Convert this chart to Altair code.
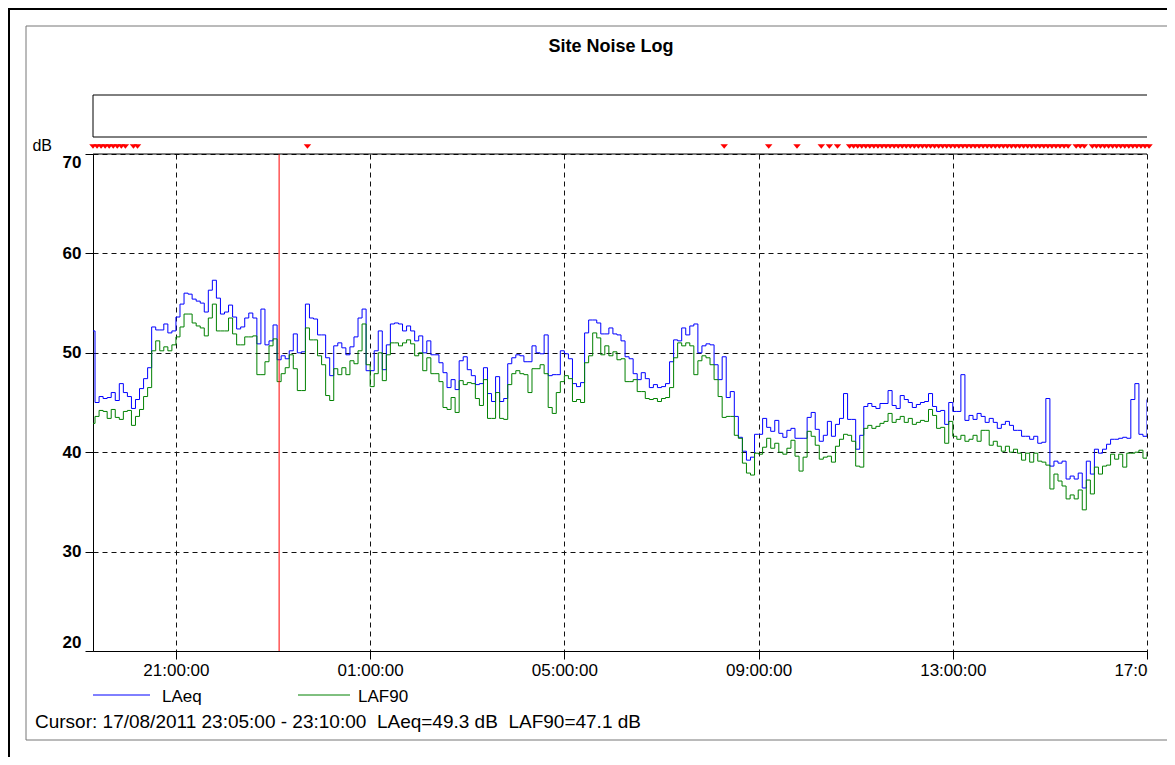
import altair as alt
import pandas as pd

# ---------------- data ----------------
series_names = ["LAeq", "LAF90"]
series_colors = ["#0000ff", "#008000"]
start_time = "2011-08-17 19:15:00"   # first 5-minute interval
step_minutes = 5

laeq = [
    52.2,
    45.0, 45.6, 45.4, 45.5, 46.0, 45.2, 46.9, 46.0, 45.6, 44.4, 45.3, 46.4, 47.4, 48.5,
    52.6, 52.3, 52.3, 52.9, 52.0, 52.2, 53.6, 54.9, 56.0, 55.9, 55.4, 55.2, 55.0, 54.1,
    56.3, 57.3, 55.5, 53.9, 54.1, 54.8, 53.6, 52.4, 52.6, 53.5, 54.0, 53.5, 50.9, 54.4, 50.8, 51.2, 52.8,
    49.3, 49.7, 49.4, 50.2, 51.9, 50.0, 50.1, 54.9, 53.5, 53.4, 51.8, 51.8, 49.5, 47.7, 50.7, 51.0, 50.5, 49.8, 50.6, 51.6,
    53.5, 54.4, 48.2, 48.2, 50.2, 52.2, 48.3, 50.8, 52.9, 53.0, 52.9, 52.2, 52.7, 52.2, 51.2, 51.7, 50.0, 51.2, 49.8, 49.8,
    49.0, 48.0, 46.5, 47.3, 46.3,
    49.2, 49.6, 48.3, 47.7, 46.8, 46.9, 48.5, 45.9, 45.1, 47.6, 45.1, 45.4, 48.9, 49.5, 49.8, 49.7, 49.1, 49.1, 50.7, 50.0,
    49.9, 51.8, 47.7, 47.8, 47.8, 50.2, 49.9, 49.4, 46.9, 46.6, 47.0, 52.0, 53.3, 53.3, 53.0, 51.9, 51.9, 52.5, 51.9, 51.8,
    51.2, 49.6, 49.4, 47.9, 47.3, 48.0, 47.4, 46.5, 46.8, 46.5, 46.6, 46.9, 49.1, 51.3, 51.2, 52.5, 51.8, 52.7, 52.9, 50.0,
    50.7, 50.9, 50.8, 48.8, 47.3, 49.6, 45.5, 46.1, 43.6, 41.5, 40.1, 39.2, 39.5, 41.8, 41.8, 43.4, 42.5, 42.1, 43.2, 41.9,
    41.5, 42.2, 42.4, 41.4, 41.4, 41.4, 43.5, 44.0, 42.3, 41.1, 41.7, 43.1, 41.6, 42.8, 43.4, 45.9, 43.3, 43.3, 40.3, 41.7,
    44.6, 44.9, 44.6, 44.4, 44.9, 44.9,
    46.2, 44.7, 44.4, 45.7, 45.3, 45.0, 44.5, 44.8, 45.0, 45.1, 45.9, 44.6, 44.1, 44.2, 42.8, 45.0, 44.1, 44.1, 47.8, 43.2,
    43.7, 43.3, 43.9, 43.6, 43.0, 43.4, 43.0, 42.4, 42.8, 43.1, 42.7, 42.2, 42.2, 41.6, 41.6, 41.3, 41.6, 40.9, 41.0, 45.4,
    38.6, 39.1, 38.9, 39.1, 37.3, 37.6, 37.3, 37.9, 36.4, 39.1, 37.8, 40.3, 39.9, 40.3, 40.8, 41.3, 41.3, 41.4, 41.5, 41.4,
    45.3, 46.9, 41.8, 41.6, 45.3,
]

laf90 = [
    42.9,
    43.6, 44.2, 44.1, 43.4, 44.3, 43.5, 43.3, 44.1, 44.2, 42.7, 43.6, 44.3, 45.6, 46.5,
    50.2, 51.2, 50.2, 50.6, 50.2, 50.8, 51.6, 52.6, 53.9, 53.9, 53.0, 52.7, 52.5, 51.7,
    53.5, 54.9, 52.2, 52.2, 52.2, 53.5, 51.9, 50.8, 50.8, 51.6, 51.6, 51.7, 47.8, 47.8, 49.1, 50.7, 51.4,
    47.1, 47.9, 48.5, 49.8, 48.4, 46.2, 46.2, 52.5, 51.3, 51.3, 49.7, 48.8, 45.7, 45.2, 48.4, 47.8, 48.5, 47.8, 49.2, 48.9,
    50.2, 52.9, 48.8, 46.6, 47.9, 50.0, 47.2, 49.8, 51.0, 51.0, 50.7, 51.0, 51.3, 50.9, 49.7, 50.0, 48.2, 49.5, 47.9, 47.9,
    47.1, 44.5, 44.3, 45.5, 44.0,
    47.2, 46.8, 47.0, 46.9, 45.4, 44.7, 47.3, 43.4, 43.4, 46.0, 43.4, 43.3, 46.8, 47.9, 48.2, 47.9, 47.8, 46.0, 48.4, 48.4,
    48.8, 47.9, 44.5, 43.9, 46.0, 47.1, 47.7, 47.4, 45.1, 45.3, 45.0, 49.0, 49.7, 52.0, 51.5, 49.8, 50.7, 49.7, 50.1, 49.3,
    49.4, 47.1, 47.1, 47.3, 46.1, 46.1, 45.4, 45.3, 45.4, 45.1, 45.4, 45.5, 46.5, 49.5, 51.0, 50.7, 51.0, 50.7, 47.8, 49.2,
    49.7, 49.5, 48.8, 47.3, 45.6, 43.5, 43.6, 43.6, 41.7, 41.4, 38.9, 37.9, 37.7, 39.9, 39.8, 40.5, 41.4, 40.4, 40.9, 40.0,
    39.8, 40.4, 41.2, 39.6, 38.1, 39.5, 42.1, 41.6, 40.7, 39.3, 39.5, 39.6, 39.0, 40.6, 41.3, 41.8, 41.7, 41.1, 38.6, 38.5,
    42.4, 42.7, 42.4, 42.6, 42.9, 43.1,
    43.9, 43.0, 43.3, 43.6, 43.0, 43.4, 42.8, 43.0, 43.2, 43.1, 44.3, 43.7, 42.4, 42.5, 40.9, 43.1, 41.6, 41.3, 41.7, 41.1,
    41.3, 41.7, 41.1, 42.2, 42.2, 40.7, 41.1, 40.6, 40.1, 40.6, 40.0, 40.3, 39.9, 39.2, 39.9, 39.0, 39.9, 39.1, 39.0, 38.7,
    36.3, 37.8, 37.1, 36.6, 35.3, 35.7, 35.3, 36.2, 34.2, 37.2, 35.8, 38.5, 37.8, 38.6, 38.7, 39.8, 39.3, 39.8, 38.5, 39.9,
    39.9, 40.0, 40.2, 39.4, 39.9,
]

# intervals (index into the series) flagged with a red marker
marker_steps = ([0, 1, 2, 3, 4, 5, 6, 7, 8, 10, 11, 53, 156, 167, 174, 180, 182, 184]
                + [i for i in range(187, 262) if i not in (242, 246)])

cursor_date = "17/08/2011"
cursor_start = "23:05:00"
cursor_end = "23:10:00"
cursor_values = [49.3, 47.1]

x_tick_times = ["2011-08-17 21:00", "2011-08-18 01:00", "2011-08-18 05:00",
                "2011-08-18 09:00", "2011-08-18 13:00", "2011-08-18 17:00"]
x_domain = ["2011-08-17 19:17:30", "2011-08-18 17:00:00"]
y_ticks = [20, 30, 40, 50, 60, 70]
y_domain = [20, 70]

title_text = "Site Noise Log"
unit_text = "dB"

# ---------------- build tables ----------------
FONT = "Liberation Sans"
base = pd.Timestamp(start_time)
step = pd.Timedelta(minutes=step_minutes)


def iso(ts):
    return pd.Timestamp(ts).strftime("%Y-%m-%dT%H:%M:%S")


def dt(ts):
    t = pd.Timestamp(ts)
    return alt.DateTime(year=t.year, month=t.month, date=t.day,
                        hours=t.hour, minutes=t.minute, seconds=t.second)


df_laeq = pd.DataFrame({"t": [iso(base + i * step) for i in range(len(laeq))], "v": laeq})
df_laf90 = pd.DataFrame({"t": [iso(base + i * step) for i in range(len(laf90))], "v": laf90})
df_marks = pd.DataFrame({"t": [iso(base + i * step + step / 2) for i in marker_steps]})
cur_t0 = pd.Timestamp(cursor_date[6:] + "-" + cursor_date[3:5] + "-" + cursor_date[0:2] + " " + cursor_start)
df_cursor = pd.DataFrame({"t": [iso(cur_t0 + step / 2)]})
one = pd.DataFrame({"a": [0]})

W, H = 1054, 497

xscale = alt.Scale(domain=[dt(d) for d in x_domain])
yscale = alt.Scale(domain=y_domain, nice=False, zero=False)

x_axis = alt.Axis(values=[dt(d) for d in x_tick_times], format="%H:%M:%S", title=None,
                  labelFont=FONT, labelFontSize=17, labelColor="black", labelFlush=False,
                  labelOverlap=False, labelPadding=3, tickSize=8, tickColor="black",
                  domainColor="black", gridColor="#111", gridDash=[5, 4], gridWidth=1)
y_axis = alt.Axis(values=y_ticks, title=None, labelFont=FONT, labelFontSize=17,
                  labelFontWeight="bold", labelColor="black", labelFlush=True,
                  labelPadding=4, tickSize=8, tickColor="black", domainColor="black",
                  gridColor="#111", gridDash=[5, 4], gridWidth=1)

X = alt.X("t:T", scale=xscale, axis=x_axis)
Y = alt.Y("v:Q", scale=yscale, axis=y_axis)

line_laeq = alt.Chart(df_laeq).mark_line(interpolate="step-after", color=series_colors[0],
                                         strokeWidth=1, clip=True).encode(x=X, y=Y)
line_laf90 = alt.Chart(df_laf90).mark_line(interpolate="step-after", color=series_colors[1],
                                           strokeWidth=1, clip=True).encode(
    x=alt.X("t:T", scale=xscale), y=alt.Y("v:Q", scale=yscale))

cursor_rule = alt.Chart(df_cursor).mark_rule(color="#ff0000", strokeWidth=1).encode(
    x=alt.X("t:T", scale=xscale))

markers = alt.Chart(df_marks).mark_point(
    shape="M-1,-0.6L1,-0.6L0,0.6Z", filled=True, color="#ff0000", size=56, opacity=1,
    clip=False).encode(x=alt.X("t:T", scale=xscale), y=alt.value(-7.5))


def hrule(x1, x2, y, color="black", width=1):
    return alt.Chart(one).mark_rule(color=color, strokeWidth=width).encode(
        x=alt.value(x1), x2=alt.value(x2), y=alt.value(y))


def vrule(x, y1, y2, color="black", width=1):
    return alt.Chart(one).mark_rule(color=color, strokeWidth=width).encode(
        x=alt.value(x), y=alt.value(y1), y2=alt.value(y2))


def text(s, x, y, align="left", size=17, weight="normal"):
    return alt.Chart(one).mark_text(text=s, align=align, baseline="middle", font=FONT,
                                    fontSize=size, fontWeight=weight, color="black").encode(
        x=alt.value(x), y=alt.value(y))


frame = [
    vrule(-84, -146, 620, "black", 2),        # outer frame left
    hrule(-85, 1090, -145, "black", 2),       # outer frame top
    vrule(-67, -128, 586, "#777777", 1),      # inner frame
    hrule(-67, 1090, -128, "#777777", 1),
    hrule(-67, 1090, 586, "#777777", 1),
    hrule(0, W, -59), hrule(0, W, -17), vrule(0, -59, -17),   # upper box
    hrule(0, W, 0),                           # top edge of plot
]

mask = alt.Chart(one).mark_rect(color="white").encode(
    x=alt.value(W + 1), x2=alt.value(W + 40), y=alt.value(H + 2), y2=alt.value(H + 40))

cursor_label = (f"Cursor: {cursor_date} {cursor_start} - {cursor_end}\u00a0 "
                f"{series_names[0]}={cursor_values[0]} dB\u00a0 {series_names[1]}={cursor_values[1]} dB")

texts = [
    text(title_text, 518, -107, "center", 18, "bold"),
    text(unit_text, -41, -8, "right", 16),
    hrule(0, 57, 541, series_colors[0], 1),
    text(series_names[0], 69, 543),
    hrule(205, 257, 541, series_colors[1], 1),
    text(series_names[1], 265, 543),
    text(cursor_label, -58, 568, "left", 19),
]

chart = alt.layer(
    line_laeq, line_laf90, cursor_rule, markers, *frame, mask, *texts
).properties(
    width=W, height=H,
    autosize=alt.AutoSizeParams(type="none"),
    padding={"left": 85, "top": 146, "right": 20, "bottom": 106},
    background="white",
).configure_view(stroke=None)

chart.save("out.html", embed_options={"renderer": "svg", "actions": False})
